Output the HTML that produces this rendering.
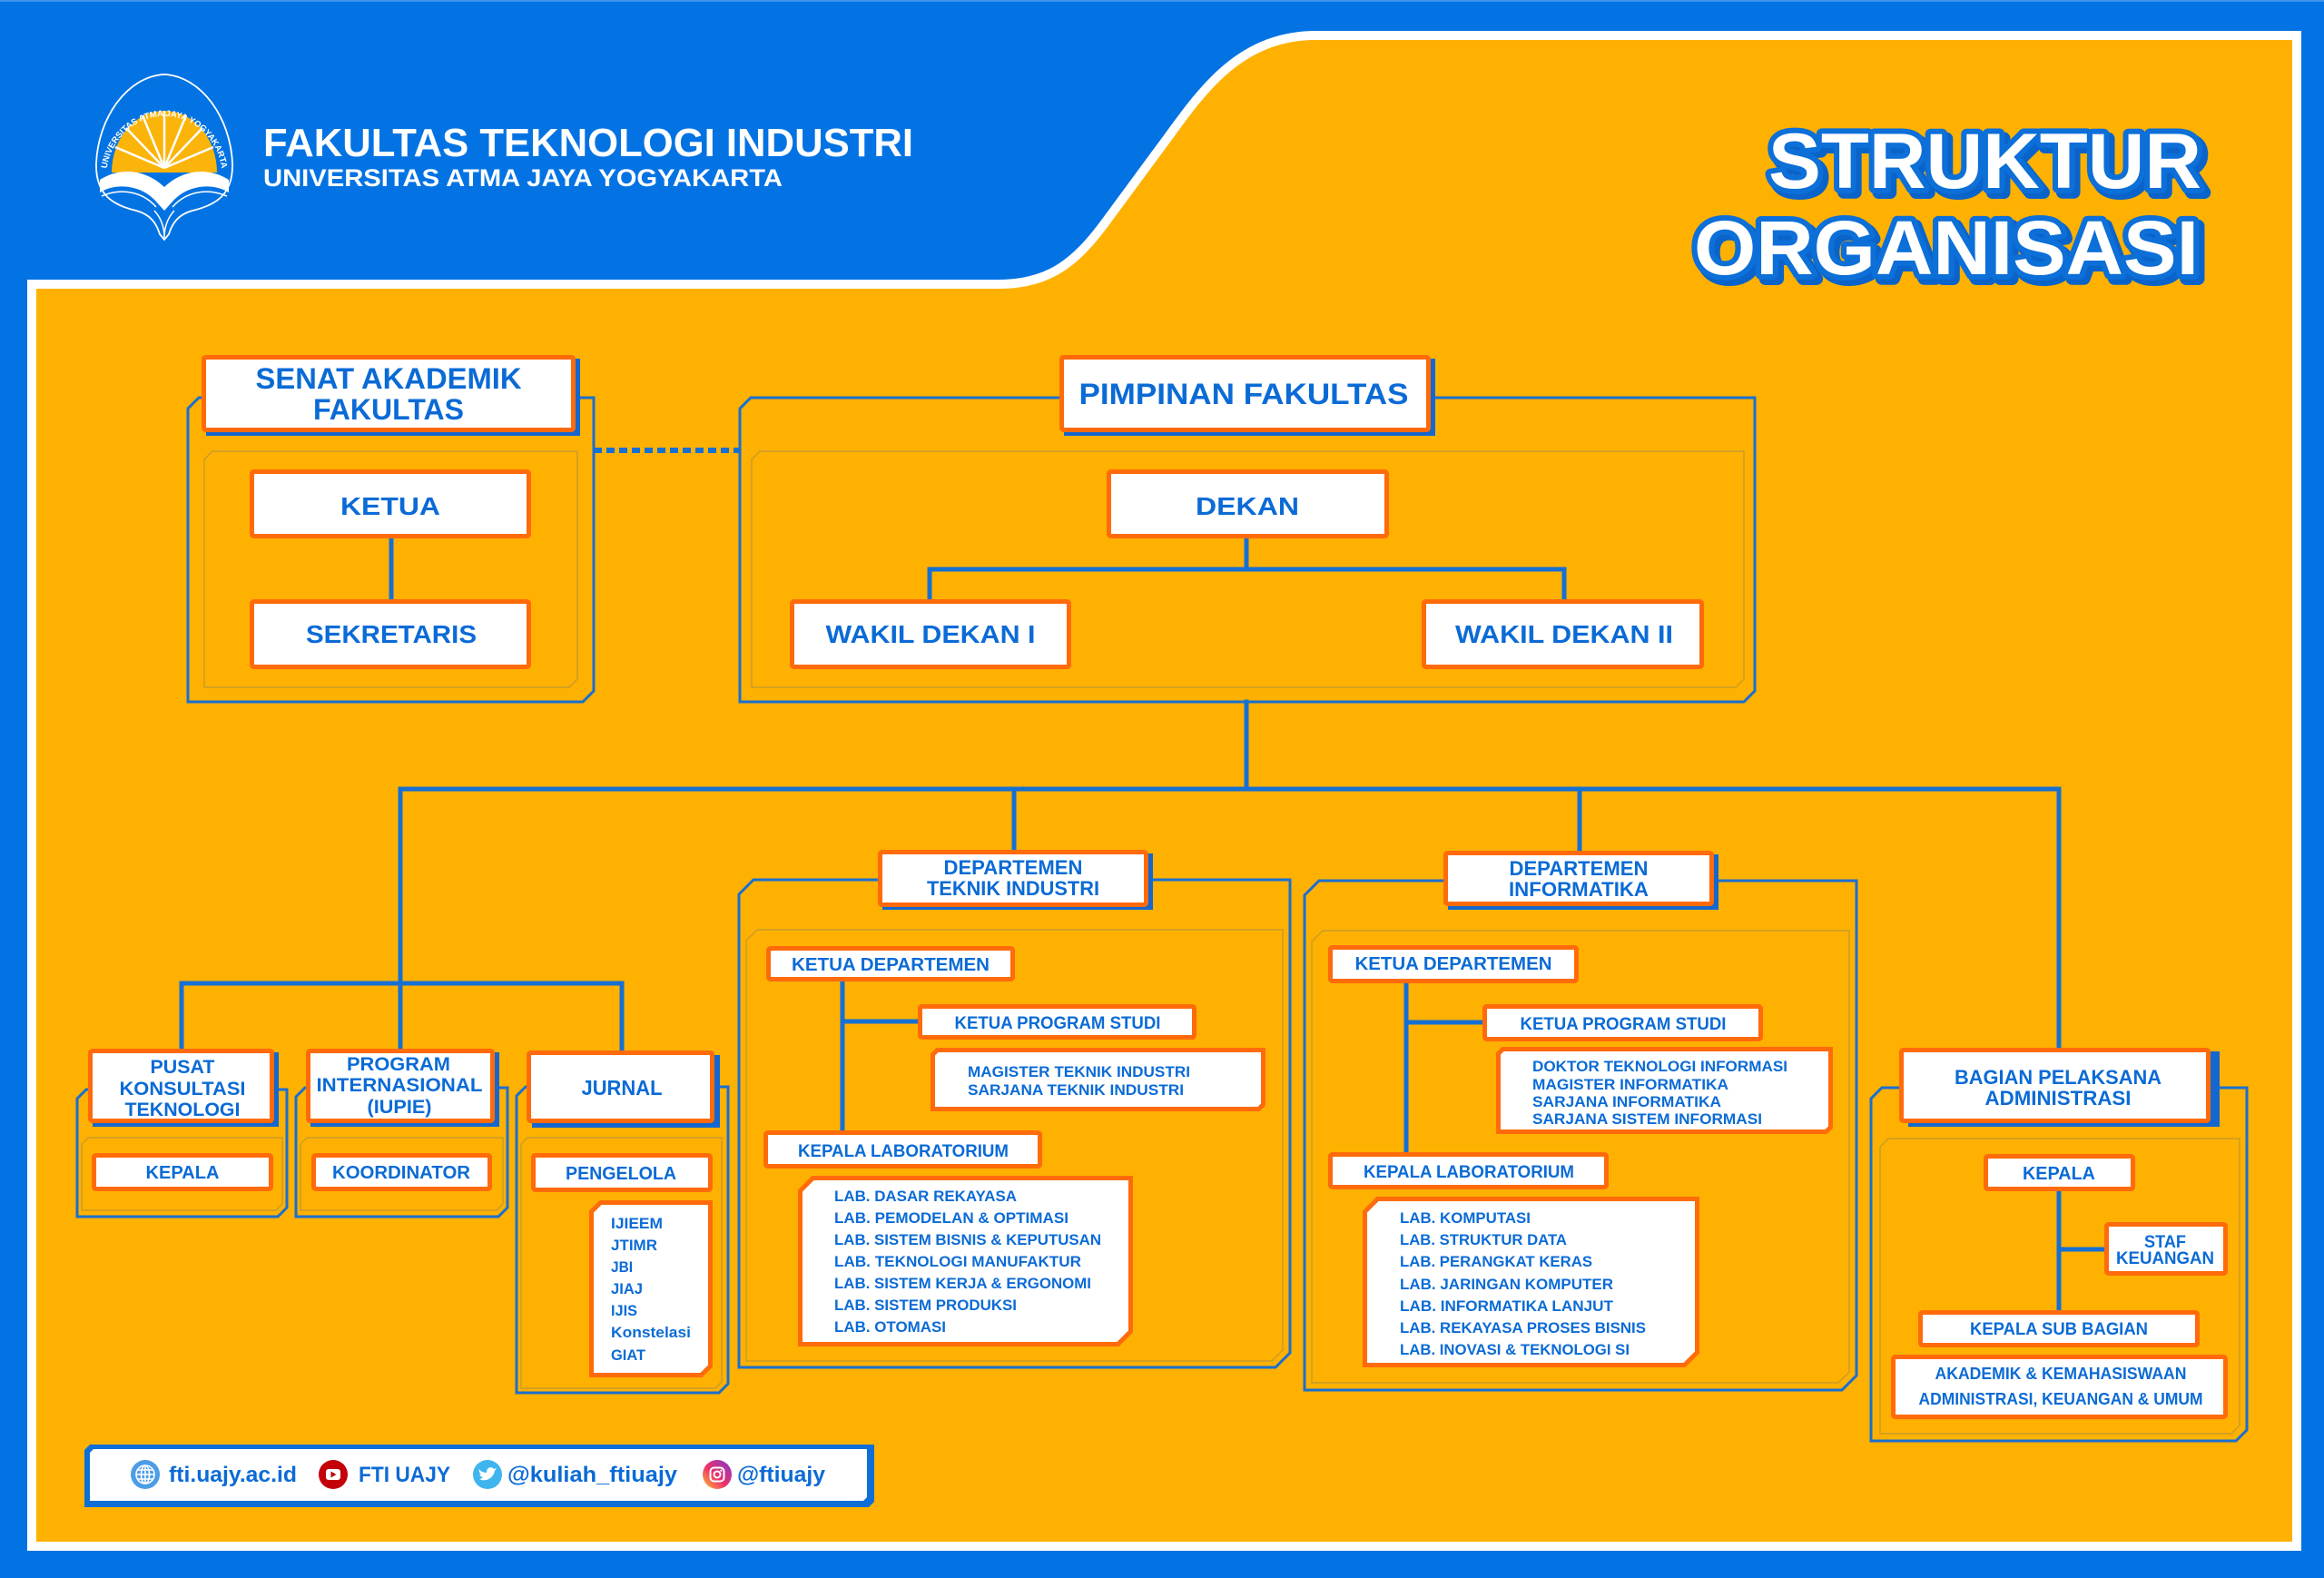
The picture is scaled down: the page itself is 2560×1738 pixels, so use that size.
<!DOCTYPE html>
<html><head><meta charset="utf-8"><style>
html,body{margin:0;padding:0;background:#0373e3;}
svg{display:block;}
.t{fill:#0b6bd6;font-family:"Liberation Sans",Arial,sans-serif;font-weight:bold;}
.m{text-anchor:middle;}
.bx{fill:#fff;stroke:#ff6b0a;stroke-width:5;}
.sh{fill:#1467cf;}
.oc{fill:none;stroke:#1a6fd0;stroke-width:3;}
.ic{fill:none;stroke:#c99c2a;stroke-width:1.5;}
.ln{fill:none;stroke:#1670d4;stroke-width:5;stroke-linecap:square;}
.w{fill:#fff;font-family:"Liberation Sans",Arial,sans-serif;font-weight:bold;}
</style></head><body>
<svg width="2560" height="1738" viewBox="0 0 2560 1738" xmlns="http://www.w3.org/2000/svg">
<defs>
<linearGradient id="ig" x1="0" y1="1" x2="1" y2="0">
<stop offset="0" stop-color="#fdc62f"/><stop offset="0.45" stop-color="#f0306a"/><stop offset="1" stop-color="#7a3bd0"/>
</linearGradient>
<path id="arc" d="M117,196 A64,68 0 0 1 245,196"/>
</defs>
<rect x="0" y="0" width="2560" height="1738" fill="#0373e3"/>
<rect x="0" y="0" width="2560" height="2" fill="#3d93ee"/>

<!-- orange panel -->
<path d="M40,318 H1100 C1160,318 1190,290 1220,250 L1290,155 C1330,100 1370,44 1450,44 H2525 V1698 H40 Z" fill="none" stroke="#ffffff" stroke-width="20"/>
<path d="M40,318 H1100 C1160,318 1190,290 1220,250 L1290,155 C1330,100 1370,44 1450,44 H2525 V1698 H40 Z" fill="#ffb101"/>

<!-- logo -->
<g>
<path d="M181,82 C140,84 108,130 106,180 C105,215 125,226 150,232 C165,236 172,245 176,258 L181,264 L186,258 C190,245 197,236 212,232 C237,226 257,215 256,180 C254,130 222,84 181,82 Z" fill="none" stroke="#fff" stroke-width="1.8"/>
<path d="M123,190 A58,68 0 0 1 239,190 Z" fill="#fbb40a"/>
<g stroke="#fff" stroke-width="2.5">
<line x1="181" y1="185" x2="181" y2="122"/>
<line x1="181" y1="185" x2="157" y2="127"/>
<line x1="181" y1="185" x2="205" y2="127"/>
<line x1="181" y1="185" x2="139" y2="141"/>
<line x1="181" y1="185" x2="223" y2="141"/>
<line x1="181" y1="185" x2="127" y2="162"/>
<line x1="181" y1="185" x2="235" y2="162"/>
</g>
<path d="M110,198 C132,184 160,186 181,206 C202,186 230,184 252,198 L252,212 C232,200 205,205 190,222 L181,232 L172,222 C157,205 130,200 110,212 Z" fill="#fff"/>
<path d="M112,216 C135,206 158,212 172,228 M250,216 C227,206 204,212 190,228" fill="none" stroke="#fff" stroke-width="1.5"/>
<path d="M170,232 Q181,244 181,262 Q181,244 192,232" fill="none" stroke="#fff" stroke-width="1.5"/>
<text class="w" font-size="9.5"><textPath href="#arc" startOffset="50%" text-anchor="middle">UNIVERSITAS ATMA JAYA YOGYAKARTA</textPath></text>
</g>

<!-- header text -->
<text class="w" x="290" y="172" font-size="44" textLength="716" lengthAdjust="spacingAndGlyphs">FAKULTAS TEKNOLOGI INDUSTRI</text>
<text class="w" x="290" y="205" font-size="27" textLength="572" lengthAdjust="spacingAndGlyphs">UNIVERSITAS ATMA JAYA YOGYAKARTA</text>

<!-- title -->
<g font-family="'Liberation Sans',Arial,sans-serif" font-weight="bold">
<text x="1953" y="212" font-size="86" textLength="477" lengthAdjust="spacingAndGlyphs" fill="#0a63c9" stroke="#0a63c9" stroke-width="14" stroke-linejoin="round">STRUKTUR</text>
<text x="1871" y="307" font-size="84" textLength="556" lengthAdjust="spacingAndGlyphs" fill="#0a63c9" stroke="#0a63c9" stroke-width="14" stroke-linejoin="round">ORGANISASI</text>
<text x="1948" y="207" font-size="86" textLength="477" lengthAdjust="spacingAndGlyphs" fill="#fff" stroke="#0d6fd8" stroke-width="12" stroke-linejoin="round" paint-order="stroke">STRUKTUR</text>
<text x="1866" y="302" font-size="84" textLength="556" lengthAdjust="spacingAndGlyphs" fill="#fff" stroke="#0d6fd8" stroke-width="12" stroke-linejoin="round" paint-order="stroke">ORGANISASI</text>
</g>

<!-- containers -->
<polygon class="oc" points="219,438 654,438 654,761 642,773 207,773 207,450"/>
<polygon class="ic" points="234,497 636,497 636,748 627,757 225,757 225,506"/>
<polygon class="oc" points="827,438 1933,438 1933,761 1921,773 815,773 815,450"/>
<polygon class="ic" points="837,497 1921,497 1921,748 1912,757 828,757 828,506"/>
<polygon class="oc" points="95,1200 316,1200 316,1330 306,1340 85,1340 85,1210"/>
<polygon class="ic" points="97,1253 311,1253 311,1326 304,1333 90,1333 90,1260"/>
<polygon class="oc" points="336,1198 559,1198 559,1330 549,1340 326,1340 326,1208"/>
<polygon class="ic" points="338,1253 554,1253 554,1326 547,1333 331,1333 331,1260"/>
<polygon class="oc" points="579,1197 802,1197 802,1524 792,1534 569,1534 569,1207"/>
<polygon class="ic" points="581,1253 795,1253 795,1522 788,1529 574,1529 574,1260"/>
<polygon class="oc" points="830,969 1421,969 1421,1490 1405,1506 814,1506 814,985"/>
<polygon class="ic" points="834,1024 1413,1024 1413,1487 1401,1499 822,1499 822,1036"/>
<polygon class="oc" points="1453,970 2045,970 2045,1515 2029,1531 1437,1531 1437,986"/>
<polygon class="ic" points="1457,1025 2037,1025 2037,1511 2025,1523 1445,1523 1445,1037"/>
<polygon class="oc" points="2073,1198 2475,1198 2475,1575 2463,1587 2061,1587 2061,1210"/>
<polygon class="ic" points="2080,1254 2467,1254 2467,1570 2458,1579 2071,1579 2071,1263"/>

<!-- connectors -->
<path d="M654,496 H815" fill="none" stroke="#1670d4" stroke-width="6" stroke-dasharray="9 5"/>
<path class="ln" d="M431,593 V660"/>
<path class="ln" d="M1373,593 V627"/>
<path class="ln" d="M1024,660 V627 H1723 V660"/>
<path class="ln" d="M1373,773 V869"/>
<path class="ln" d="M441,1083 V869 H2268 V1154"/>
<path class="ln" d="M1117,869 V936"/>
<path class="ln" d="M1740,869 V937"/>
<path class="ln" d="M200,1155 V1083 H685 V1157"/>
<path class="ln" d="M441,1083 V1155"/>
<path class="ln" d="M928,1081 V1245"/>
<path class="ln" d="M928,1125 H1012"/>
<path class="ln" d="M1549,1083 V1269"/>
<path class="ln" d="M1549,1126 H1634"/>
<path class="ln" d="M2268,1312 V1443"/>
<path class="ln" d="M2268,1376 H2318"/>

<!-- header boxes -->
<rect class="sh" x="227" y="395" width="412" height="85"/>
<rect class="bx" x="224.5" y="393.5" width="407" height="80" rx="2"/>
<rect class="sh" x="1172" y="395" width="409" height="85"/>
<rect class="bx" x="1169.5" y="393.5" width="404" height="80" rx="2"/>
<rect class="sh" x="102" y="1159" width="205" height="82"/>
<rect class="bx" x="99.5" y="1157.5" width="200" height="77" rx="2"/>
<rect class="sh" x="342" y="1159" width="208" height="82"/>
<rect class="bx" x="339.5" y="1157.5" width="203" height="77" rx="2"/>
<rect class="sh" x="586" y="1162" width="207" height="80"/>
<rect class="bx" x="582.5" y="1159.5" width="202" height="75" rx="2"/>
<rect class="sh" x="972" y="940" width="298" height="62"/>
<rect class="bx" x="969.5" y="938.5" width="293" height="58" rx="2"/>
<rect class="sh" x="1595" y="941" width="298" height="61"/>
<rect class="bx" x="1592.5" y="939.5" width="293" height="56" rx="2"/>
<rect class="sh" x="2102" y="1158" width="343" height="83"/>
<rect class="bx" x="2094.5" y="1156.5" width="338" height="78" rx="2"/>

<!-- inner boxes -->
<rect class="bx" x="277.5" y="519.5" width="305" height="71" rx="2"/>
<rect class="bx" x="277.5" y="662.5" width="305" height="72" rx="2"/>
<rect class="bx" x="1221.5" y="519.5" width="306" height="71" rx="2"/>
<rect class="bx" x="872.5" y="662.5" width="305" height="72" rx="2"/>
<rect class="bx" x="1568.5" y="662.5" width="306" height="72" rx="2"/>
<rect class="bx" x="103.5" y="1272.5" width="195" height="37" rx="2"/>
<rect class="bx" x="345.5" y="1272.5" width="194" height="37" rx="2"/>
<rect class="bx" x="587.5" y="1272.5" width="195" height="38" rx="2"/>
<polygon class="bx" points="661.5,1324.5 782.5,1324.5 782.5,1504.5 772.5,1514.5 651.5,1514.5 651.5,1334.5"/>
<rect class="bx" x="846.5" y="1044.5" width="269" height="34" rx="2"/>
<rect class="bx" x="1013.5" y="1108.5" width="302" height="34" rx="2"/>
<polygon class="bx" points="1032.5,1156.5 1391.5,1156.5 1391.5,1216.5 1386.5,1221.5 1027.5,1221.5 1027.5,1161.5"/>
<rect class="bx" x="843.5" y="1247.5" width="302" height="37" rx="2"/>
<polygon class="bx" points="895.5,1297.5 1245.5,1297.5 1245.5,1466.5 1231.5,1480.5 881.5,1480.5 881.5,1311.5"/>
<rect class="bx" x="1465.5" y="1043.5" width="271" height="37" rx="2"/>
<rect class="bx" x="1635.5" y="1108.5" width="304" height="36" rx="2"/>
<polygon class="bx" points="1655.5,1155.5 2016.5,1155.5 2016.5,1241.5 2011.5,1246.5 1650.5,1246.5 1650.5,1160.5"/>
<rect class="bx" x="1465.5" y="1271.5" width="304" height="36" rx="2"/>
<polygon class="bx" points="1517.5,1320.5 1869.5,1320.5 1869.5,1489.5 1855.5,1503.5 1503.5,1503.5 1503.5,1334.5"/>
<rect class="bx" x="2187.5" y="1273.5" width="162" height="36" rx="2"/>
<rect class="bx" x="2320.5" y="1348.5" width="131" height="54" rx="2"/>
<rect class="bx" x="2115.5" y="1445.5" width="305" height="36" rx="2"/>
<rect class="bx" x="2085.5" y="1494.5" width="366" height="66" rx="2"/>

<!-- labels -->
<g class="t">
<text class="t m" x="428" y="428" font-size="32" textLength="293" lengthAdjust="spacingAndGlyphs">SENAT AKADEMIK</text>
<text class="t m" x="428" y="462" font-size="32" textLength="166" lengthAdjust="spacingAndGlyphs">FAKULTAS</text>
<text class="t m" x="1370" y="445" font-size="32" textLength="363" lengthAdjust="spacingAndGlyphs">PIMPINAN FAKULTAS</text>
<text class="t m" x="430" y="567" font-size="28" textLength="110" lengthAdjust="spacingAndGlyphs">KETUA</text>
<text class="t m" x="431" y="708" font-size="28" textLength="188" lengthAdjust="spacingAndGlyphs">SEKRETARIS</text>
<text class="t m" x="1374" y="567" font-size="28" textLength="114" lengthAdjust="spacingAndGlyphs">DEKAN</text>
<text class="t m" x="1025" y="708" font-size="28" textLength="231" lengthAdjust="spacingAndGlyphs">WAKIL DEKAN I</text>
<text class="t m" x="1723" y="708" font-size="28" textLength="240" lengthAdjust="spacingAndGlyphs">WAKIL DEKAN II</text>

<text class="t m" x="201" y="1182" font-size="21" textLength="71" lengthAdjust="spacingAndGlyphs">PUSAT</text>
<text class="t m" x="201" y="1206" font-size="21" textLength="139" lengthAdjust="spacingAndGlyphs">KONSULTASI</text>
<text class="t m" x="201" y="1229" font-size="21" textLength="127" lengthAdjust="spacingAndGlyphs">TEKNOLOGI</text>
<text class="t m" x="439" y="1179" font-size="21" textLength="114" lengthAdjust="spacingAndGlyphs">PROGRAM</text>
<text class="t m" x="440" y="1202" font-size="21" textLength="183" lengthAdjust="spacingAndGlyphs">INTERNASIONAL</text>
<text class="t m" x="440" y="1226" font-size="21" textLength="71" lengthAdjust="spacingAndGlyphs">(IUPIE)</text>
<text class="t m" x="685" y="1206" font-size="23" textLength="89" lengthAdjust="spacingAndGlyphs">JURNAL</text>
<text class="t m" x="201" y="1298" font-size="20" textLength="81" lengthAdjust="spacingAndGlyphs">KEPALA</text>
<text class="t m" x="442" y="1298" font-size="20" textLength="152" lengthAdjust="spacingAndGlyphs">KOORDINATOR</text>
<text class="t m" x="684" y="1299" font-size="20" textLength="122" lengthAdjust="spacingAndGlyphs">PENGELOLA</text>
<text class="t" x="673" y="1353" font-size="17" textLength="57" lengthAdjust="spacingAndGlyphs">IJIEEM</text>
<text class="t" x="673" y="1377" font-size="17" textLength="51" lengthAdjust="spacingAndGlyphs">JTIMR</text>
<text class="t" x="673" y="1401" font-size="17" textLength="24" lengthAdjust="spacingAndGlyphs">JBI</text>
<text class="t" x="673" y="1425" font-size="17" textLength="35" lengthAdjust="spacingAndGlyphs">JIAJ</text>
<text class="t" x="673" y="1449" font-size="17" textLength="29" lengthAdjust="spacingAndGlyphs">IJIS</text>
<text class="t" x="673" y="1473" font-size="17" textLength="88" lengthAdjust="spacingAndGlyphs">Konstelasi</text>
<text class="t" x="673" y="1498" font-size="17" textLength="38" lengthAdjust="spacingAndGlyphs">GIAT</text>

<text class="t m" x="1116" y="963" font-size="22" textLength="153" lengthAdjust="spacingAndGlyphs">DEPARTEMEN</text>
<text class="t m" x="1116" y="986" font-size="22" textLength="190" lengthAdjust="spacingAndGlyphs">TEKNIK INDUSTRI</text>
<text class="t m" x="981" y="1069" font-size="20" textLength="218" lengthAdjust="spacingAndGlyphs">KETUA DEPARTEMEN</text>
<text class="t m" x="1165" y="1133" font-size="19" textLength="227" lengthAdjust="spacingAndGlyphs">KETUA PROGRAM STUDI</text>
<text class="t" x="1066" y="1186" font-size="17" textLength="245" lengthAdjust="spacingAndGlyphs">MAGISTER TEKNIK INDUSTRI</text>
<text class="t" x="1066" y="1206" font-size="17" textLength="238" lengthAdjust="spacingAndGlyphs">SARJANA TEKNIK INDUSTRI</text>
<text class="t m" x="995" y="1274" font-size="19" textLength="232" lengthAdjust="spacingAndGlyphs">KEPALA LABORATORIUM</text>
<text class="t" x="919" y="1323" font-size="17" textLength="201" lengthAdjust="spacingAndGlyphs">LAB. DASAR REKAYASA</text>
<text class="t" x="919" y="1347" font-size="17" textLength="258" lengthAdjust="spacingAndGlyphs">LAB. PEMODELAN &amp; OPTIMASI</text>
<text class="t" x="919" y="1371" font-size="17" textLength="294" lengthAdjust="spacingAndGlyphs">LAB. SISTEM BISNIS &amp; KEPUTUSAN</text>
<text class="t" x="919" y="1395" font-size="17" textLength="272" lengthAdjust="spacingAndGlyphs">LAB. TEKNOLOGI MANUFAKTUR</text>
<text class="t" x="919" y="1419" font-size="17" textLength="283" lengthAdjust="spacingAndGlyphs">LAB. SISTEM KERJA &amp; ERGONOMI</text>
<text class="t" x="919" y="1443" font-size="17" textLength="201" lengthAdjust="spacingAndGlyphs">LAB. SISTEM PRODUKSI</text>
<text class="t" x="919" y="1467" font-size="17" textLength="123" lengthAdjust="spacingAndGlyphs">LAB. OTOMASI</text>

<text class="t m" x="1739" y="964" font-size="22" textLength="153" lengthAdjust="spacingAndGlyphs">DEPARTEMEN</text>
<text class="t m" x="1739" y="987" font-size="22" textLength="154" lengthAdjust="spacingAndGlyphs">INFORMATIKA</text>
<text class="t m" x="1601" y="1068" font-size="20" textLength="217" lengthAdjust="spacingAndGlyphs">KETUA DEPARTEMEN</text>
<text class="t m" x="1788" y="1134" font-size="19" textLength="227" lengthAdjust="spacingAndGlyphs">KETUA PROGRAM STUDI</text>
<text class="t" x="1688" y="1180" font-size="17" textLength="281" lengthAdjust="spacingAndGlyphs">DOKTOR TEKNOLOGI INFORMASI</text>
<text class="t" x="1688" y="1200" font-size="17" textLength="216" lengthAdjust="spacingAndGlyphs">MAGISTER INFORMATIKA</text>
<text class="t" x="1688" y="1219" font-size="17" textLength="208" lengthAdjust="spacingAndGlyphs">SARJANA INFORMATIKA</text>
<text class="t" x="1688" y="1238" font-size="17" textLength="253" lengthAdjust="spacingAndGlyphs">SARJANA SISTEM INFORMASI</text>
<text class="t m" x="1618" y="1297" font-size="19" textLength="232" lengthAdjust="spacingAndGlyphs">KEPALA LABORATORIUM</text>
<text class="t" x="1542" y="1347" font-size="17" textLength="144" lengthAdjust="spacingAndGlyphs">LAB. KOMPUTASI</text>
<text class="t" x="1542" y="1371" font-size="17" textLength="184" lengthAdjust="spacingAndGlyphs">LAB. STRUKTUR DATA</text>
<text class="t" x="1542" y="1395" font-size="17" textLength="212" lengthAdjust="spacingAndGlyphs">LAB. PERANGKAT KERAS</text>
<text class="t" x="1542" y="1420" font-size="17" textLength="235" lengthAdjust="spacingAndGlyphs">LAB. JARINGAN KOMPUTER</text>
<text class="t" x="1542" y="1444" font-size="17" textLength="235" lengthAdjust="spacingAndGlyphs">LAB. INFORMATIKA LANJUT</text>
<text class="t" x="1542" y="1468" font-size="17" textLength="271" lengthAdjust="spacingAndGlyphs">LAB. REKAYASA PROSES BISNIS</text>
<text class="t" x="1542" y="1492" font-size="17" textLength="253" lengthAdjust="spacingAndGlyphs">LAB. INOVASI &amp; TEKNOLOGI SI</text>

<text class="t m" x="2267" y="1194" font-size="22" textLength="228" lengthAdjust="spacingAndGlyphs">BAGIAN PELAKSANA</text>
<text class="t m" x="2267" y="1217" font-size="22" textLength="161" lengthAdjust="spacingAndGlyphs">ADMINISTRASI</text>
<text class="t m" x="2268" y="1299" font-size="20" textLength="80" lengthAdjust="spacingAndGlyphs">KEPALA</text>
<text class="t m" x="2385" y="1374" font-size="19" textLength="46" lengthAdjust="spacingAndGlyphs">STAF</text>
<text class="t m" x="2385" y="1392" font-size="19" textLength="108" lengthAdjust="spacingAndGlyphs">KEUANGAN</text>
<text class="t m" x="2268" y="1470" font-size="19" textLength="196" lengthAdjust="spacingAndGlyphs">KEPALA SUB BAGIAN</text>
<text class="t m" x="2270" y="1519" font-size="18" textLength="277" lengthAdjust="spacingAndGlyphs">AKADEMIK &amp; KEMAHASISWAAN</text>
<text class="t m" x="2270" y="1547" font-size="18" textLength="313" lengthAdjust="spacingAndGlyphs">ADMINISTRASI, KEUANGAN &amp; UMUM</text>
</g>

<!-- footer -->
<polygon points="99,1591 963,1591 963,1654 957,1660 93,1660 93,1597" fill="#0f6fd6"/>
<polygon points="103,1596 955,1596 955,1649 951,1653 99,1653 99,1600" fill="#fff"/>
<g transform="translate(160,1624)">
<circle r="16" fill="#4d9de6"/>
<g fill="none" stroke="#fff" stroke-width="1.6">
<circle r="10"/><ellipse rx="4.5" ry="10"/><line x1="-10" y1="0" x2="10" y2="0"/><line x1="-9" y1="-5" x2="9" y2="-5"/><line x1="-9" y1="5" x2="9" y2="5"/><line x1="0" y1="-10" x2="0" y2="10"/>
</g></g>
<g transform="translate(367,1624)">
<circle r="16" fill="#c4000a"/>
<rect x="-8" y="-6" width="16" height="12" rx="3" fill="#fff"/>
<polygon points="-2.5,-3.5 -2.5,3.5 3.5,0" fill="#c4000a"/>
</g>
<g transform="translate(537,1624)">
<circle r="16" fill="#3fb5ee"/>
<path d="M-9,5 C-4,8 6,6 8,-4 L10,-7 L7,-6 C6,-8 2,-9 0,-6 C-1,-4 -1,-3 -1,-2 C-5,-2 -8,-4 -9,-6 C-10,-3 -8,-1 -7,0 L-9,0 C-8,2 -6,3 -5,3 C-6,4 -8,5 -9,5 Z" fill="#fff"/>
</g>
<g transform="translate(790,1624)">
<circle r="16" fill="url(#ig)"/>
<rect x="-7.5" y="-7.5" width="15" height="15" rx="4" fill="none" stroke="#fff" stroke-width="2"/>
<circle r="3.5" fill="none" stroke="#fff" stroke-width="2"/>
<circle cx="4.3" cy="-4.3" r="1.1" fill="#fff"/>
</g>
<text class="t" x="186" y="1632" font-size="24" textLength="141" lengthAdjust="spacingAndGlyphs">fti.uajy.ac.id</text>
<text class="t" x="395" y="1632" font-size="24" textLength="101" lengthAdjust="spacingAndGlyphs">FTI UAJY</text>
<text class="t" x="559" y="1632" font-size="24" textLength="187" lengthAdjust="spacingAndGlyphs">@kuliah_ftiuajy</text>
<text class="t" x="812" y="1632" font-size="24" textLength="97" lengthAdjust="spacingAndGlyphs">@ftiuajy</text>
</svg>
</body></html>
